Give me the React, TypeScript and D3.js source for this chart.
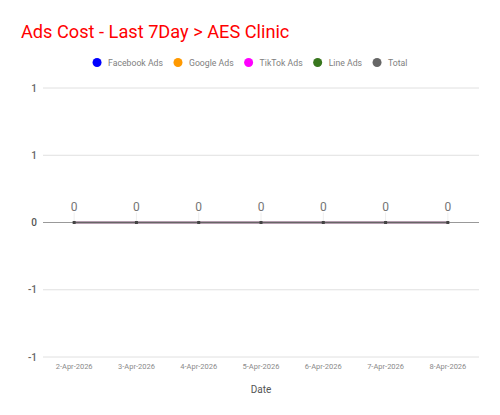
import React from "react";
import * as d3 from "d3";

const dates = ["2-Apr-2026", "3-Apr-2026", "4-Apr-2026", "5-Apr-2026", "6-Apr-2026", "7-Apr-2026", "8-Apr-2026"];
const facebookAds = [0, 0, 0, 0, 0, 0, 0];
const googleAds = [0, 0, 0, 0, 0, 0, 0];
const tiktokAds = [0, 0, 0, 0, 0, 0, 0];
const lineAds = [0, 0, 0, 0, 0, 0, 0];
const total = [0, 0, 0, 0, 0, 0, 0];
const seriesNames = ["Facebook Ads", "Google Ads", "TikTok Ads", "Line Ads", "Total"];
const seriesColors = ["#0000ff", "#ff9900", "#ff00ff", "#38761d", "#666666"];
const yTicks = [-1, -0.5, 0, 0.5, 1];

function measure(text: string, font: string): number {
  try {
    const ctx = document.createElement("canvas").getContext("2d");
    if (ctx) {
      ctx.font = font;
      return ctx.measureText(text).width;
    }
  } catch (e) {}
  return text.length * 4.3;
}

export default function App() {
  const W = 500, H = 415;
  const left = 43, right = 479, top = 88, bottom = 357;
  const x = d3.scalePoint<string>().domain(dates).range([left, right]).padding(0.5);
  const y = d3.scaleLinear().domain([-1, 1]).range([bottom, top]);
  const tickLabel = (v: number) => (v === 0 ? "0" : v > 0 ? "1" : "-1");
  const allSeries = [facebookAds, googleAds, tiktokAds, lineAds, total];
  const line = d3.line<number>().x((_, i) => x(dates[i])!).y((d) => y(d));
  const font = "Roboto, sans-serif";

  // legend layout
  const legendSize = 8.7;
  const legendFont = `${legendSize}px Roboto`;
  const textW = seriesNames.map((n) => measure(n, legendFont));
  const itemW = textW.map((w) => 11 + w + 15);
  const legendTotal = d3.sum(itemW) - 15 + 4.5;
  let lx = 250 - legendTotal / 2;
  const legendItems = seriesNames.map((n, i) => {
    const item = { name: n, color: seriesColors[i], x: lx };
    lx += itemW[i];
    return item;
  });

  return (
    <svg width={W} height={H} style={{ position: "absolute", left: 0, top: 0, background: "#fff" }} fontFamily={font}>
      <text x={21} y={38} fontSize={18.2} fill="#ff0000">Ads Cost - Last 7Day &gt; AES Clinic</text>
      {legendItems.map((it) => (
        <g key={it.name}>
          <circle cx={it.x + 4.5} cy={62.5} r={4.5} fill={it.color} />
          <text x={it.x + 15.5} y={65.8} fontSize={legendSize} fill="#808080">{it.name}</text>
        </g>
      ))}
      {yTicks.map((t) => (
        <g key={t}>
          <line x1={left} x2={right} y1={y(t)} y2={y(t)} stroke={t === 0 ? "#999999" : "#e0e0e0"} strokeWidth={t === 0 ? 1.2 : 1} />
          <text x={37} y={y(t) + 3.5} fontSize={10} fill={t === 0 ? "#555" : "#666"} textAnchor="end" fontWeight={500}>{tickLabel(t)}</text>
        </g>
      ))}
      {dates.map((d, i) => (
        <g key={d}>
          <line x1={x(d)!} x2={x(d)!} y1={y(total[i]) - 10} y2={y(total[i])} stroke="#eeeeee" strokeWidth={1} />
          <text x={x(d)!} y={y(total[i]) - 12} fontSize={12} fill="#757575" textAnchor="middle">{String(total[i])}</text>
          <text x={x(d)!} y={369} fontSize={7.5} fill="#8a8a8a" textAnchor="middle">{d}</text>
        </g>
      ))}
      {allSeries.map((s, i) => (
        <path key={i} d={line(s) || ""} fill="none" stroke={seriesColors[i]} strokeWidth={i === 4 ? 1.5 : 2.2} strokeOpacity={i === 4 ? 1 : 0.25} />
      ))}
      {dates.map((d, i) => (
        <rect key={d} x={x(d)! - 1.5} y={y(total[i]) - 1.5} width={3} height={3} fill="#444" />
      ))}
      <text x={261} y={393} fontSize={10} fill="#555" textAnchor="middle">Date</text>
    </svg>
  );
}
